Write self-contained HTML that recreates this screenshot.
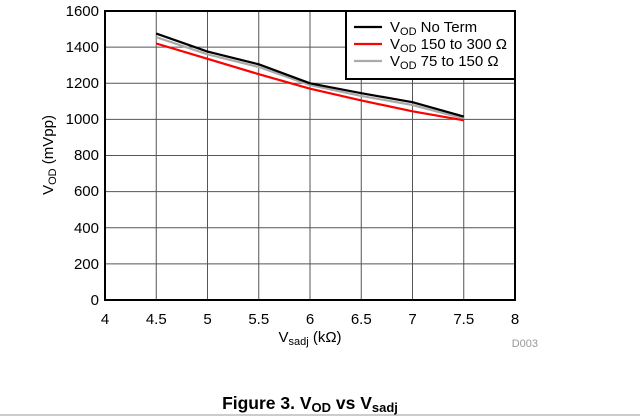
<!DOCTYPE html>
<html><head><meta charset="utf-8"><style>
html,body{margin:0;padding:0;background:#fff;}
svg{display:block;font-family:"Liberation Sans",sans-serif;}
</style></head><body>
<svg width="640" height="416" viewBox="0 0 640 416" xmlns="http://www.w3.org/2000/svg">
<g stroke="#555" stroke-width="1">
<line x1="156.25" y1="11" x2="156.25" y2="300"/><line x1="207.5" y1="11" x2="207.5" y2="300"/>
<line x1="258.75" y1="11" x2="258.75" y2="300"/><line x1="310" y1="11" x2="310" y2="300"/>
<line x1="361.25" y1="11" x2="361.25" y2="300"/><line x1="412.5" y1="11" x2="412.5" y2="300"/>
<line x1="463.75" y1="11" x2="463.75" y2="300"/>
<line x1="105" y1="47.1" x2="515" y2="47.1"/><line x1="105" y1="83.3" x2="515" y2="83.3"/>
<line x1="105" y1="119.4" x2="515" y2="119.4"/><line x1="105" y1="155.5" x2="515" y2="155.5"/>
<line x1="105" y1="191.6" x2="515" y2="191.6"/><line x1="105" y1="227.8" x2="515" y2="227.8"/>
<line x1="105" y1="263.9" x2="515" y2="263.9"/>
</g>
<rect x="105" y="11" width="410" height="289" fill="none" stroke="#000" stroke-width="2"/>
<g fill="none" stroke-width="2.2" stroke-linejoin="round">
<polyline stroke="#aaa" points="156.25,37.2 207.5,54.3 258.75,67 310,85.1 361.25,95.9 412.5,105 463.75,118.5"/>
<polyline stroke="#000" points="156.25,33.6 207.5,51.6 258.75,64.3 310,83.3 361.25,93.2 412.5,102.2 463.75,116.6"/>
<polyline stroke="#f00" points="156.25,43.5 207.5,58.8 258.75,74.2 310,88.7 361.25,100.4 412.5,111.3 463.75,120.3"/>
</g>
<rect x="346" y="11" width="169" height="68" fill="#fff" stroke="#000" stroke-width="2"/>
<g stroke-width="2.2"><line x1="354" y1="27" x2="382" y2="27" stroke="#000"/>
<line x1="354" y1="44" x2="382" y2="44" stroke="#f00"/>
<line x1="354" y1="61" x2="382" y2="61" stroke="#aaa"/></g>
<g font-size="15" fill="#000">
<text x="390" y="32">V<tspan font-size="11" dy="3">OD</tspan><tspan dy="-3"> No Term</tspan></text>
<text x="390" y="49">V<tspan font-size="11" dy="3">OD</tspan><tspan dy="-3"> 150 to 300 Ω</tspan></text>
<text x="390" y="66">V<tspan font-size="11" dy="3">OD</tspan><tspan dy="-3"> 75 to 150 Ω</tspan></text>
</g>
<g font-size="15" text-anchor="end">
<text x="99" y="16">1600</text><text x="99" y="52">1400</text><text x="99" y="88">1200</text>
<text x="99" y="124">1000</text><text x="99" y="160">800</text><text x="99" y="196">600</text>
<text x="99" y="233">400</text><text x="99" y="269">200</text><text x="99" y="305">0</text>
</g>
<g font-size="15" text-anchor="middle">
<text x="105" y="324">4</text><text x="156.25" y="324">4.5</text><text x="207.5" y="324">5</text>
<text x="258.75" y="324">5.5</text><text x="310" y="324">6</text><text x="361.25" y="324">6.5</text>
<text x="412.5" y="324">7</text><text x="463.75" y="324">7.5</text><text x="515" y="324">8</text>
<text x="310" y="342">V<tspan font-size="11" dy="3">sadj</tspan><tspan dy="-3"> (kΩ)</tspan></text>
</g>
<text transform="translate(53,155) rotate(-90)" font-size="15" text-anchor="middle">V<tspan font-size="11" dy="3">OD</tspan><tspan dy="-3"> (mVpp)</tspan></text>
<text x="538" y="347" font-size="11" fill="#999" text-anchor="end">D003</text>
<text x="310" y="409" font-size="17.5" font-weight="bold" text-anchor="middle">Figure 3. V<tspan font-size="13" dy="3">OD</tspan><tspan dy="-3"> vs V</tspan><tspan font-size="13" dy="3">sadj</tspan></text>
<line x1="0" y1="415" x2="640" y2="415" stroke="#999" stroke-width="1"/>
</svg>
</body></html>
